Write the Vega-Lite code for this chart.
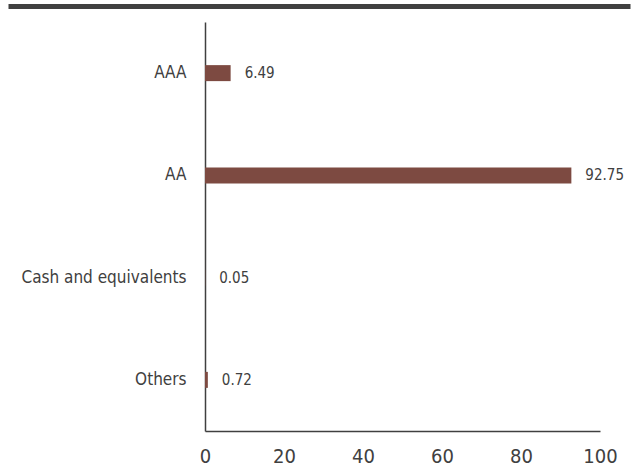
{
  "$schema": "https://vega.github.io/schema/vega-lite/v6.json",
  "autosize": "none",
  "width": 395,
  "height": 409,
  "padding": {"left": 205, "top": 22, "right": 33, "bottom": 39},
  "background": "white",
  "config": {"view": {"stroke": null}, "font": "'DejaVu Sans Condensed', 'Roboto Condensed', 'Open Sans Condensed', Roboto, sans-serif"},
  "data": {"values": [
    {"rating": "AAA", "pct": 6.49, "label": "6.49"},
    {"rating": "AA", "pct": 92.75, "label": "92.75"},
    {"rating": "Cash and equivalents", "pct": 0.05, "label": "0.05"},
    {"rating": "Others", "pct": 0.72, "label": "0.72"}
  ]},
  "layer": [
    {
      "encoding": {
        "y": {"field": "rating", "type": "nominal", "sort": null,
              "scale": {"paddingInner": 0, "paddingOuter": 0},
              "axis": {"title": null, "ticks": false, "domainColor": "#404040", "domainWidth": 1.5,
                       "labelFont": "'DejaVu Sans Condensed', 'Roboto Condensed', 'Open Sans Condensed', Roboto, sans-serif", "labelFontSize": 17, "labelColor": "#404040", "labelPadding": 19}},
        "x": {"field": "pct", "type": "quantitative",
              "scale": {"domain": [0, 100], "nice": false},
              "axis": {"title": null, "values": [0, 20, 40, 60, 80, 100], "ticks": false, "grid": false,
                       "domainColor": "#404040", "domainWidth": 1.5,
                       "labelFont": "'DejaVu Sans Condensed', 'Roboto Condensed', 'Open Sans Condensed', Roboto, sans-serif", "labelFontSize": 20, "labelColor": "#404040", "labelPadding": 15, "labelFlush": false}}
      },
      "layer": [
        {"mark": {"type": "bar", "size": 16, "color": "#7d4a41"}},
        {"mark": {"type": "text", "align": "left", "dx": 14, "fontSize": 15, "color": "#404040", "font": "'DejaVu Sans Condensed', 'Roboto Condensed', 'Open Sans Condensed', Roboto, sans-serif"},
         "encoding": {"text": {"field": "label"}}}
      ]
    },
    {
      "mark": {"type": "tick", "opacity": 0},
      "encoding": {
        "y": {"field": "rating", "type": "nominal", "sort": null},
        "x": {"field": "pct", "type": "quantitative",
              "scale": {"domain": [0, 100], "range": [-197, 425], "nice": false},
              "axis": {"orient": "top", "title": null, "labels": false, "ticks": false, "grid": false,
                       "domainColor": "#404040", "domainWidth": 5, "offset": 16}}
      }
    }
  ],
  "resolve": {"scale": {"x": "independent"}, "axis": {"x": "independent"}}
}
